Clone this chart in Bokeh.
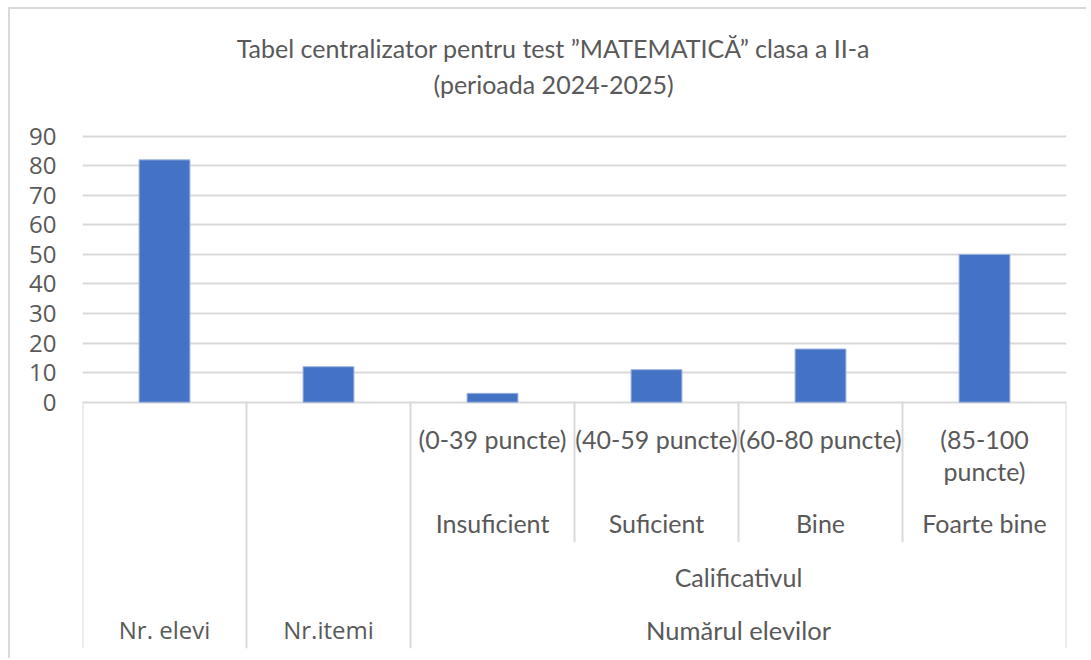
from bokeh.plotting import figure
from bokeh.models import Range1d, FactorRange, FixedTicker, ColumnDataSource
from bokeh.core.properties import value
from bokeh.embed import file_html
from bokeh.resources import INLINE

# ---------------- data ----------------
title_lines = ["Tabel centralizator pentru test \u201dMATEMATIC\u0102\u201d clasa a II-a",
               "(perioada 2024-2025)"]
categories = ["Nr. elevi", "Nr.itemi", "Insuficient", "Suficient", "Bine", "Foarte bine"]
values = [82, 12, 3, 11, 18, 50]
score_ranges = ["", "", "(0-39 puncte)", "(40-59 puncte)", "(60-80 puncte)", "(85-100\npuncte)"]
group_label = "Calificativul"
top_group_label = "Num\u0103rul elevilor"
y_ticks = [0, 10, 20, 30, 40, 50, 60, 70, 80, 90]

# ---------------- styles ----------------
TXT = "#595959"
GRID = "#d9d9d9"
BAR = "#4472c4"

# page-pixel geometry of the chart
CANVAS_X, CANVAS_Y = 10, 9
ZERO_PX, TOP_PX, FRAME_TOP, FRAME_BOT = 401.7, 135.7, 9.0, 648.0
FRAME_L, FRAME_R = 82.0, 1066.0
k = (ZERO_PX - TOP_PX) / 90.0
y_start = -(FRAME_BOT - ZERO_PX) / k
y_end = 90 + (TOP_PX - FRAME_TOP) / k

W, H = 1078, 651
n = len(categories)
p = figure(width=W, height=H, output_backend="svg", toolbar_location=None,
           x_range=FactorRange(*categories, range_padding=0, factor_padding=0),
           y_range=Range1d(y_start, y_end), title=None,
           min_border_left=int(FRAME_L - CANVAS_X), min_border_right=int(CANVAS_X + W - FRAME_R),
           min_border_top=0, min_border_bottom=int(CANVAS_Y + H - FRAME_BOT))
p.extra_y_ranges = {"py": Range1d(FRAME_BOT, FRAME_TOP)}
p.outline_line_color = None
p.background_fill_color = "white"
p.border_fill_color = "white"
p.styles = {"margin-left": "8px", "margin-top": "7px",
            "border-left": "2px solid #d9d9d9", "border-top": "2px solid #d9d9d9"}

p.xaxis.visible = False
p.xgrid.visible = False
p.ygrid.ticker = FixedTicker(ticks=y_ticks)
p.ygrid.grid_line_color = GRID
p.ygrid.grid_line_width = 2
p.yaxis.ticker = FixedTicker(ticks=y_ticks)
p.yaxis.axis_line_color = None
p.yaxis.major_tick_line_color = None
p.yaxis.minor_tick_line_color = None
p.yaxis.major_tick_out = 0
p.yaxis.major_label_standoff = 26
p.yaxis.major_label_text_font = "Open Sans"
p.yaxis.major_label_text_font_size = "24px"
p.yaxis.major_label_text_color = TXT

# bars
src = ColumnDataSource(dict(cat=categories, val=values))
p.vbar(x="cat", top="val", bottom=0, width=0.31, source=src,
       fill_color=BAR, line_color="#9db3de", line_width=1)

# category table: separators (synthetic category coords)
long_x = [0, 1, 2, n]
short_x = [i for i in range(3, n)]
p.segment(x0=long_x, x1=long_x, y0=[ZERO_PX] * len(long_x), y1=[FRAME_BOT] * len(long_x),
          y_range_name="py", line_color=GRID, line_width=2)
p.segment(x0=short_x, x1=short_x, y0=[ZERO_PX] * len(short_x), y1=[541.7] * len(short_x),
          y_range_name="py", line_color=GRID, line_width=2)

# level 3/4 labels
grade_idx = [i for i in range(n) if score_ranges[i]]
p.text(x=[i + 0.5 for i in grade_idx], y=[423] * len(grade_idx),
       text=[score_ranges[i] for i in grade_idx], y_range_name="py",
       text_font=value("Lato"), text_font_size="25px", text_color=TXT,
       text_align="center", text_baseline="top", text_line_height=1.08)
p.text(x=[i + 0.5 for i in grade_idx], y=[522] * len(grade_idx),
       text=[categories[i] for i in grade_idx], y_range_name="py",
       text_font=value("Lato"), text_font_size="25px", text_color=TXT,
       text_align="center", text_baseline="middle")
p.text(x=[(grade_idx[0] + n) / 2], y=[576], text=[group_label], y_range_name="py",
       text_font=value("Lato"), text_font_size="25px", text_color=TXT,
       text_align="center", text_baseline="middle")
p.text(x=[(grade_idx[0] + n) / 2], y=[629], text=[top_group_label], y_range_name="py",
       text_font=value("Lato"), text_font_size="25.5px", text_color=TXT,
       text_align="center", text_baseline="middle")
other_idx = [i for i in range(n) if not score_ranges[i]]
p.text(x=[i + 0.5 for i in other_idx], y=[629] * len(other_idx),
       text=[categories[i] for i in other_idx], y_range_name="py",
       text_font=value("Open Sans"), text_font_size="24px", text_color=TXT,
       text_align="center", text_baseline="middle")

# title (centre of chart area, in category units)
title_x = (553 - FRAME_L) / ((FRAME_R - FRAME_L) / n)
p.text(x=[title_x, title_x], y=[47, 83], text=title_lines, y_range_name="py",
       text_font=value("Lato"), text_font_size="25px", text_color=TXT,
       text_align="center", text_baseline="middle")

open("out.html", "w").write(file_html(p, INLINE))
